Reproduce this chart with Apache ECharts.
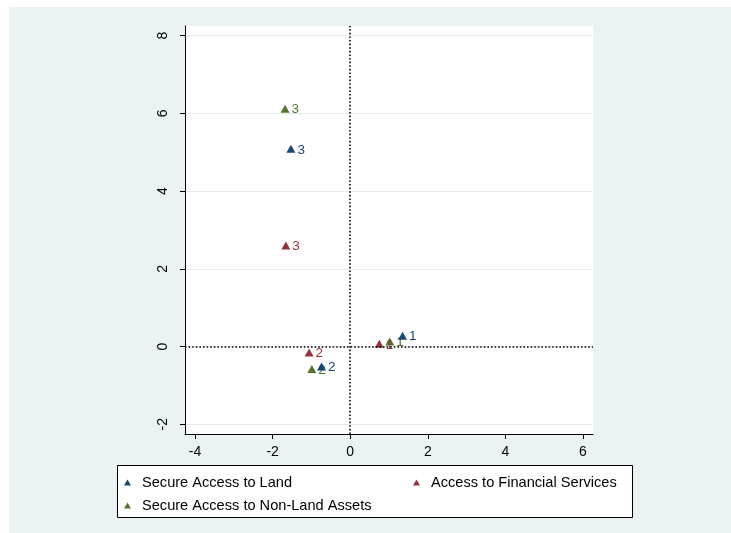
<!DOCTYPE html>
<html><head><meta charset="utf-8">
<script src="https://cdn.jsdelivr.net/npm/echarts@6/dist/echarts.min.js"></script>
<style>html,body{margin:0;padding:0;background:#fff;width:731px;height:533px;overflow:hidden}
#c{position:absolute;left:9px;top:7px;width:722px;height:526px}</style>
</head><body><div id="c"></div>
<script>
const pointLabels = ['1', '2', '3'];
const landX = [1.35, -0.74, -1.53];
const landY = [0.28, -0.51, 5.09];
const finX = [0.75, -1.06, -1.66];
const finY = [0.07, -0.15, 2.60];
const nonLandX = [1.02, -0.99, -1.68];
const nonLandY = [0.13, -0.58, 6.12];
const xTicks = [-4, -2, 0, 2, 4, 6];
const yTicks = [-2, 0, 2, 4, 6, 8];
const seriesNames = ['Secure Access to Land', 'Access to Financial Services', 'Secure Access to Non-Land Assets'];
const colors = ['#1a476f', '#90353b', '#55752f'];

const FONT = '"Liberation Sans", Arial, sans-serif';
function pts(xs, ys) { return xs.map((x, i) => [x, ys[i], pointLabels[i]]); }

function mkSeries(idx, xs, ys) {
  return {
    name: seriesNames[idx], type: 'scatter', symbol: 'triangle', symbolSize: [9, 8],
    itemStyle: { color: colors[idx], opacity: 1 },
    data: pts(xs, ys),
    label: { show: true, position: 'right', distance: 2, offset: [0, 1], formatter: p => p.data[2],
      color: colors[idx], fontSize: 13.5, fontFamily: FONT },
    emphasis: { disabled: true }
  };
}

const chart = echarts.init(document.getElementById('c'), null, { renderer: 'canvas' });
const series = [mkSeries(0, landX, landY), mkSeries(1, finX, finY), mkSeries(2, nonLandX, nonLandY)];
series[0].markLine = {
  silent: true, symbol: 'none', label: { show: false },
  lineStyle: { color: '#000', type: [1.6, 2], width: 1.6 },
  data: [{ xAxis: 0 }, { yAxis: 0 }]
};
series[0].z = 3;

function legend(i, left, top) {
  return {
    data: [{ name: seriesNames[i], icon: 'triangle' }], left: left, top: top,
    padding: 0, itemWidth: 7, itemHeight: 6, selectedMode: false,
    textStyle: { fontSize: 14.6, color: '#000', fontFamily: FONT, padding: [0, 0, 0, 6] }
  };
}

chart.setOption({
  backgroundColor: '#eaf2f3',
  animation: false,
  grid: { left: 176, top: 19, width: 408, height: 408, show: true, backgroundColor: '#fff', borderWidth: 0 },
  xAxis: {
    type: 'value', min: -4.26, max: 6.26,
    axisLine: { show: true, onZero: false, lineStyle: { color: '#000', width: 1 } },
    axisTick: { show: true, length: 5, customValues: xTicks, lineStyle: { color: '#000' } },
    axisLabel: { customValues: xTicks, margin: 11, fontSize: 14, color: '#000', fontFamily: FONT },
    splitLine: { show: false }
  },
  yAxis: {
    type: 'value', min: -2.25, max: 8.25,
    axisLine: { show: true, onZero: false, lineStyle: { color: '#000', width: 1 } },
    axisTick: { show: true, length: 5, customValues: yTicks, lineStyle: { color: '#000' } },
    axisLabel: { customValues: yTicks, rotate: 90, margin: 15, fontSize: 14, color: '#000', fontFamily: FONT },
    splitLine: { show: true, lineStyle: { color: '#e4eeef', width: 1 } }
  },
  legend: [legend(0, 115, 468), legend(1, 404, 468), legend(2, 115, 491)],
  graphic: [{
    type: 'rect', shape: { x: 108.5, y: 458.5, width: 515, height: 52 },
    style: { fill: '#fff', stroke: '#000', lineWidth: 1 }, z: -1, silent: true
  }],
  series: series
});
</script></body></html>
